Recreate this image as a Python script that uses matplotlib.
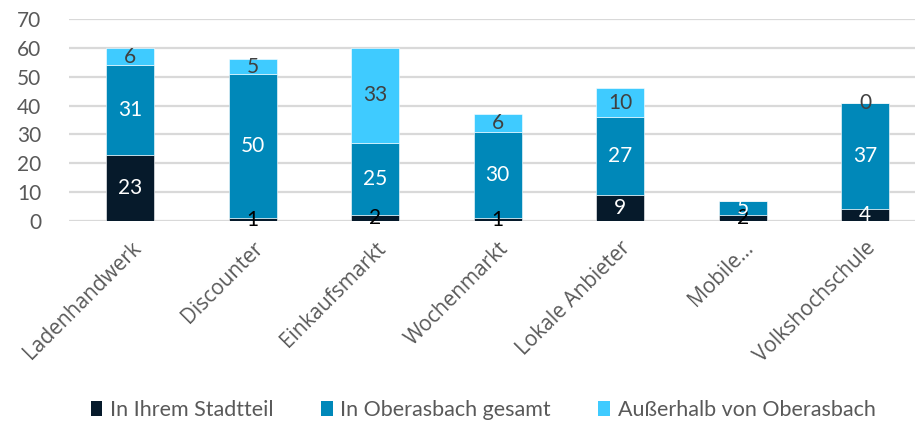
import numpy as np
import matplotlib
matplotlib.use("Agg")
import matplotlib.pyplot as plt
from matplotlib.patches import Patch

categories = ["Ladenhandwerk", "Discounter", "Einkaufsmarkt", "Wochenmarkt",
              "Lokale Anbieter", "Mobile…", "Volkshochschule"]
series_names = ["In Ihrem Stadtteil", "In Oberasbach gesamt", "Außerhalb von Oberasbach"]
stadtteil = [23, 1, 2, 1, 9, 2, 4]
oberasbach = [31, 50, 25, 30, 27, 5, 37]
ausserhalb = [6, 5, 33, 6, 10, np.nan, 0]
y_ticks = [0, 10, 20, 30, 40, 50, 60, 70]

colors = ["#061a2b", "#0088b9", "#3fcbff"]
grey_text = "#595959"

fig = plt.figure(figsize=(9.15, 4.24), dpi=100)
ax = fig.add_axes([69 / 915, 1 - 221 / 424, 1 - 69 / 915, (221 - 19) / 424])

x = np.arange(len(categories))
width = 0.39
bottom = np.zeros(len(categories))
for vals, col in zip([stadtteil, oberasbach, ausserhalb], colors):
    v = np.nan_to_num(np.array(vals, dtype=float))
    ax.bar(x, v, width, bottom=bottom, color=col, edgecolor="white",
           linewidth=0.4, zorder=3)
    bottom = bottom + v

# segment labels
def label_color(series_idx, val):
    if series_idx == 0:
        return "white" if val >= 3 else "black"
    if series_idx == 1:
        return "white"
    return "#404040"

bottom = np.zeros(len(categories))
for si, vals in enumerate([stadtteil, oberasbach, ausserhalb]):
    for i, val in enumerate(vals):
        if np.isnan(val):
            continue
        yc = bottom[i] + val / 2
        ax.text(x[i], yc, f"{int(val)}", ha="center", va="center",
                fontsize=15, family="Lato", color=label_color(si, val), zorder=4)
    bottom = bottom + np.nan_to_num(np.array(vals, dtype=float))

ax.set_ylim(0, 70)
ax.set_xlim(-0.5, (915 - 69) / 122.5 - 0.5)
ax.set_yticks(y_ticks)
ax.set_yticklabels([str(t) for t in y_ticks], fontsize=15, family="Lato", color=grey_text)
ax.yaxis.grid(True, color="#d9d9d9", linewidth=1.6, zorder=0)
ax.set_axisbelow(True)
ax.tick_params(axis="y", length=0, pad=20)
ax.tick_params(axis="x", length=0, pad=12)
for s in ax.spines.values():
    s.set_visible(False)

ax.set_xticks(x)
ax.set_xticklabels(categories, rotation=45, ha="right", rotation_mode="anchor")
for lbl in ax.get_xticklabels():
    lbl.set_fontfamily("Open Sans")
    lbl.set_fontsize(15)
    lbl.set_color(grey_text)

handles = [Patch(facecolor=c, edgecolor="none") for c in colors]
fig.legend(handles, series_names, loc="center", bbox_to_anchor=(483 / 915, 1 - 410 / 424),
           ncol=3, frameon=False, handlelength=0.55, handleheight=0.7,
           handletextpad=0.35, columnspacing=2.2,
           prop={"family": "Lato", "size": 15.5}, labelcolor=grey_text)

fig.savefig("out.png", dpi=100)
